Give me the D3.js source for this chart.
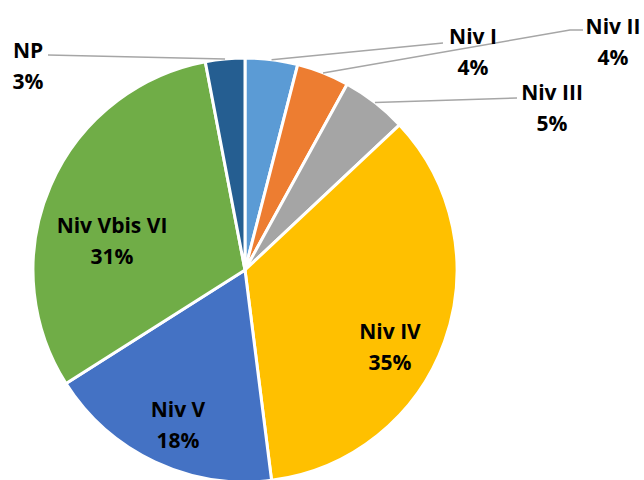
<!DOCTYPE html>
<html>
<head>
<meta charset="utf-8">
<script src="https://cdn.jsdelivr.net/npm/d3@7"></script>
<style>
  body { margin: 0; background: #fff; }
  text { font-family: "Open Sans", Lato, sans-serif; font-weight: bold; font-size: 21px; fill: #000; }
</style>
</head>
<body>
<svg id="chart" viewBox="0 0 644 480" width="644" height="480"></svg>
<script>
// data
const categories = ["Niv I", "Niv II", "Niv III", "Niv IV", "Niv V", "Niv Vbis VI", "NP"]
const values = [4, 4, 5, 35, 18, 31, 3]
const colors = ["#5B9BD5", "#ED7D31", "#A5A5A5", "#FFC000", "#4472C4", "#70AD47", "#255E91"]

// label layout (center of the two-line label, leader line end)
const labelPos = [
    {x: 473, y: 52, line: [[443, 43]]},
    {x: 613, y: 42, line: [[570, 30], [583, 30]]},
    {x: 552, y: 108, line: [[517, 98]]},
    {x: 390, y: 347},
    {x: 178, y: 425},
    {x: 112, y: 241},
    {x: 28, y: 66, line: [[48, 55]]}
]

const svg = d3.select("#chart")
const cx = 245, cy = 270, radius = 212

const pieData = d3.pie().sort(null).value(d => d)(values)
const arc = d3.arc().innerRadius(0).outerRadius(radius)

const g = svg.append("g").attr("transform", `translate(${cx},${cy})`)

g.selectAll("path")
    .data(pieData)
    .enter()
    .append("path")
    .attr("d", arc)
    .attr("fill", (d, i) => colors[i])
    .attr("stroke", "#fff")
    .attr("stroke-width", 3)
    .attr("stroke-linejoin", "round")

// leader lines
pieData.forEach(function (d, i) {
    let lp = labelPos[i]
    if (!lp.line) return
    let mid = (d.startAngle + d.endAngle) / 2
    let pts = [[cx + radius * Math.sin(mid), cy - radius * Math.cos(mid)]].concat(lp.line)
    svg.append("path")
        .attr("d", d3.line()(pts))
        .attr("fill", "none")
        .attr("stroke", "#A6A6A6")
        .attr("stroke-width", 1.5)
})

// labels
const total = d3.sum(values)
const labels = svg.selectAll(".lbl")
    .data(pieData)
    .enter()
    .append("text")
    .attr("class", "lbl")
    .attr("text-anchor", "middle")
    .attr("transform", (d, i) => `translate(${labelPos[i].x},${labelPos[i].y})`)

labels.append("tspan")
    .attr("x", 0)
    .attr("y", -8)
    .text((d, i) => categories[i])
labels.append("tspan")
    .attr("x", 0)
    .attr("y", 23)
    .text(d => Math.round(d.data / total * 100) + "%")
</script>
</body>
</html>
